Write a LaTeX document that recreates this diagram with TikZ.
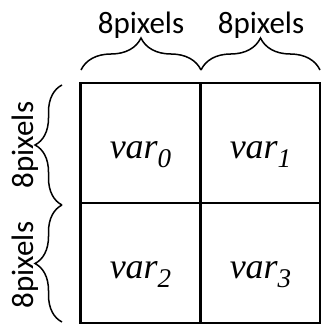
\documentclass[tikz,border=0pt]{standalone}
\usepackage{fontspec}
\setmainfont{Liberation Serif}
\newfontfamily\labelfont{Carlito}
\usetikzlibrary{decorations.pathreplacing}
\newcommand{\varsub}[1]{var\raisebox{-9pt}{\fontsize{27}{27}\selectfont #1}}
\begin{document}
\begin{tikzpicture}[x=1pt,y=-1pt,
  cell/.style={draw, line width=2.6pt, minimum width=120pt, minimum height=120pt, inner sep=0pt},
  topbrace/.style={line width=1.5pt, decorate, decoration={brace, amplitude=32pt}},
  sidebrace/.style={line width=1.5pt, decorate, decoration={brace, amplitude=27pt}},
  sizelabel/.style={font=\labelfont\fontsize{31}{31}\selectfont, inner sep=0pt},
  cellvar/.style={font=\fontsize{36}{36}\selectfont\itshape, inner sep=0pt}]
\useasboundingbox (0,0) rectangle (321,324);
% 2x2 grid of cells
\node[cell] (c0) at (140.5,143) {};
\node[cell] (c1) at (260.5,143) {};
\node[cell] (c2) at (140.5,263) {};
\node[cell] (c3) at (260.5,263) {};
% cell variables
\node[cellvar, anchor=base] (v0) at ([yshift=-15pt]c0.center) {\varsub{0}};
\node[cellvar, anchor=base] (v1) at ([yshift=-15pt]c1.center) {\varsub{1}};
\node[cellvar, anchor=base] (v2) at ([yshift=-15pt]c2.center) {\varsub{2}};
\node[cellvar, anchor=base] (v3) at ([yshift=-15pt]c3.center) {\varsub{3}};
% brace end points
\coordinate (ta) at (81,70);
\coordinate (tb) at (201,70);
\coordinate (tc) at (320,70);
\coordinate (la) at (62,322);
\coordinate (lb) at (62,205);
\coordinate (lc) at (62,85);
% braces
\draw[topbrace] (ta) -- (tb);
\draw[topbrace] (tb) -- (tc);
\draw[sidebrace] (lb) -- (lc);
\draw[sidebrace] (la) -- (lb);
% size labels
\node[sizelabel, anchor=base] (t0) at (141,33) {8pixels};
\node[sizelabel, anchor=base] (t1) at (261,33) {8pixels};
\node[sizelabel, anchor=base, rotate=90] (s0) at (33,145) {8pixels};
\node[sizelabel, anchor=base, rotate=90] (s1) at (33,265) {8pixels};
\end{tikzpicture}
\end{document}
